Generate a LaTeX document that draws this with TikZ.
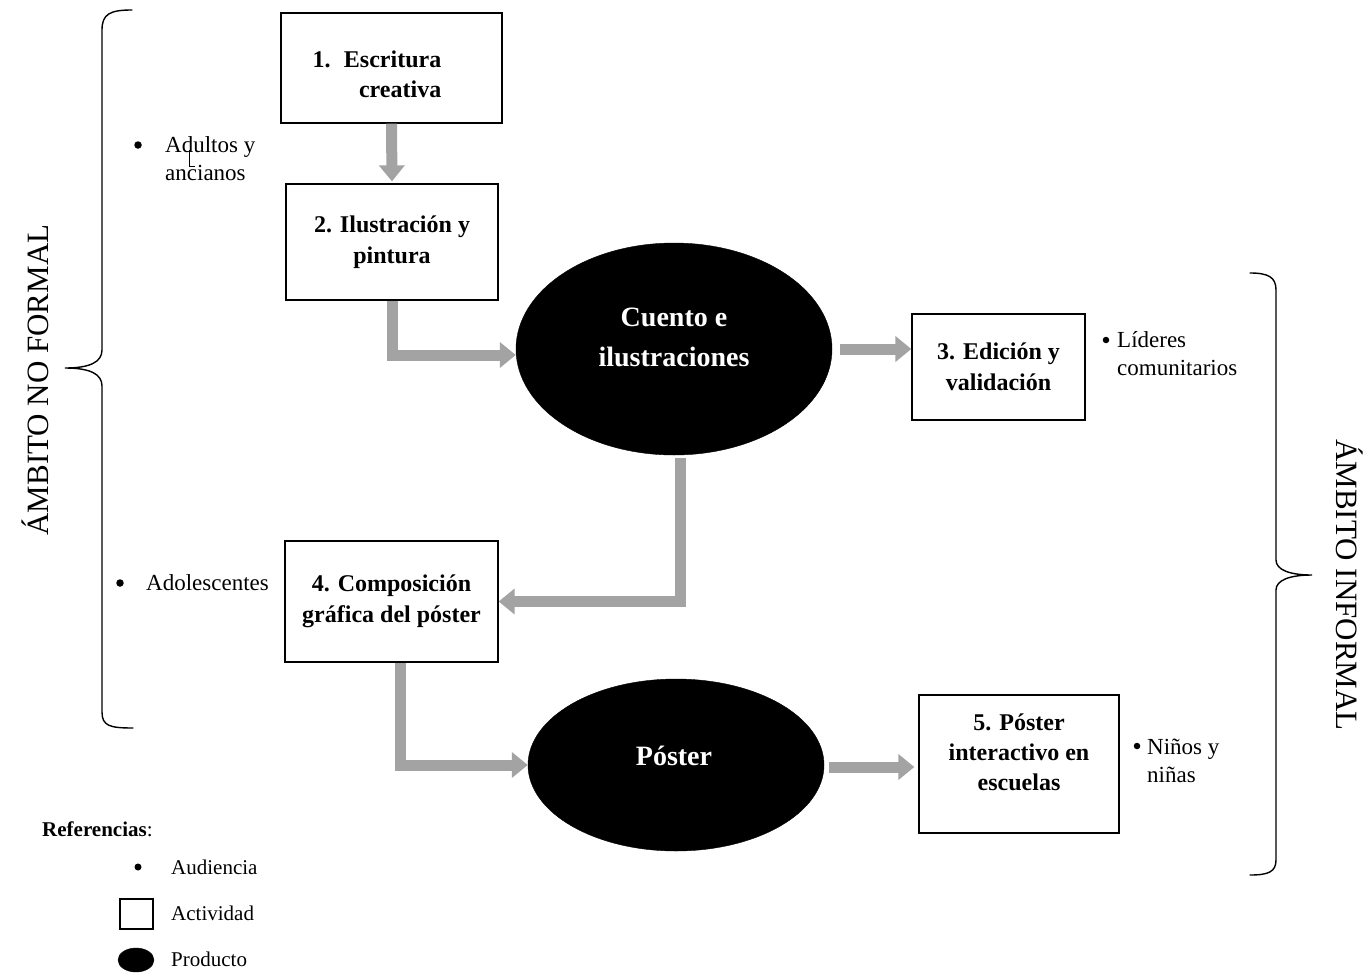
\documentclass[tikz,border=0pt]{standalone}
\usepackage{fontspec}
\setmainfont{Liberation Serif}
\usetikzlibrary{arrows.meta,shapes.geometric}
\definecolor{arrowgray}{HTML}{A3A3A3}
\begin{document}
\begin{tikzpicture}[x=1pt,y=-1pt,
  actbox/.style={draw, line width=1.3pt, inner sep=0pt, align=center,
    font=\fontsize{24}{31}\selectfont\bfseries},
  acttext/.style={inner sep=0pt, font=\fontsize{24}{30}\selectfont\bfseries},
  product/.style={ellipse, fill=black, draw=black, inner sep=0pt},
  prodtext/.style={inner sep=0pt, text=white, align=center,
    font=\fontsize{28}{40}\selectfont\bfseries},
  audtext/.style={inner sep=0pt, anchor=west, align=left,
    font=\fontsize{23}{28}\selectfont},
  audbullet/.style={circle, fill=black, inner sep=0pt, minimum size=#1},
  audbullet/.default=7.5pt,
  flow/.style={line width=11pt, draw=arrowgray, line join=miter,
    -{Triangle[width=25pt,length=16pt,fill=arrowgray]}},
  brace/.style={line width=1.4pt, line cap=round},
  sidelabel/.style={inner sep=0pt, font=\fontsize{31}{36}\selectfont},
  legtext/.style={inner sep=0pt, anchor=west, font=\fontsize{21}{24}\selectfont}]

\useasboundingbox (0,0) rectangle (1364,972);

% boxes
\node[actbox, minimum width=221pt, minimum height=110pt] (b1) at (391.5,68) {};
\node[acttext, align=right] (b1t) at (377,74) {1.\hspace{0.55em}Escritura\\creativa};
\node[actbox, minimum width=212pt, minimum height=116pt] (b2) at (392,242) {2. Ilustración y\\pintura};
\node[actbox, minimum width=173pt, minimum height=106pt] (b3) at (998.5,367) {3. Edición y\\validación};
\node[actbox, minimum width=213pt, minimum height=121pt] (b4) at (391.5,601.5) {4. Composición\\gráfica del póster};
\node[actbox, minimum width=200pt, minimum height=138pt] (b5) at (1019,764) {};
\node[acttext, align=center] (b5t) at (1019,752) {5. Póster\\interactivo en\\escuelas};

% products
\node[product, minimum width=316pt, minimum height=212pt] (cuento) at (674,349) {};
\node[prodtext] (cuentot) at (674,337) {Cuento e\\ilustraciones};
\node[product, minimum width=296pt, minimum height=172pt] (poster) at (676,765) {};
\node[prodtext] (postert) at (674,756) {Póster};

% arrows
\draw[flow, shorten >=2pt] (b1.south) -- (b2.north);
\draw[flow] (b2.south) |- ([yshift=-6pt]cuento.west);
\draw[flow, shorten <=8pt] (cuento.east) -- (cuento.east -| b3.west);
\draw[flow, shorten <=3pt] ([xshift=6pt]cuento.south) |- (b4.east);
\draw[flow] ([xshift=9pt]b4.south) |- (poster.west);
\draw[flow, shorten <=5pt, shorten >=4pt] ([yshift=-2pt]poster.east) -- ([yshift=-2pt]poster.east -| b5.west);

% audiences
\node[audbullet] (a1b) at (138,145) {};
\node[audtext] (a1) at (165,159) {Adultos y\\ancianos};
\draw[line width=0.6pt] (189,150) -- (189,166) -- (195,166);
\node[audbullet] (a2b) at (120,583) {};
\node[audtext] (a2) at (146,583) {Adolescentes};
\node[audbullet=6.5pt] (a3b) at (1106,340) {};
\node[audtext] (a3) at (1117,354) {Líderes\\comunitarios};
\node[audbullet=6.5pt] (a4b) at (1137,746) {};
\node[audtext] (a4) at (1147,761) {Niños y\\niñas};

% braces
\draw[brace] (132,10) .. controls (110,10) and (102,14) .. (102,30) -- (102,350)
  .. controls (102,362) and (90,368) .. (65,368)
  .. controls (90,368) and (102,374) .. (102,386) -- (102,712)
  .. controls (102,726) and (110,728) .. (133,728);
\draw[brace] (1250,273) .. controls (1268,273) and (1276,277) .. (1276,290) -- (1276,560)
  .. controls (1276,570) and (1290,575) .. (1312,575)
  .. controls (1290,575) and (1276,580) .. (1276,590) -- (1276,860)
  .. controls (1276,872) and (1268,875) .. (1250,875);
\node[sidelabel, rotate=90] (nf) at (35,380) {ÁMBITO NO FORMAL};
\node[sidelabel, rotate=-90] (inf) at (1350,585) {ÁMBITO INFORMAL};

% legend
\node[legtext] (ref) at (42,829) {\textbf{Referencias}:};
\node[audbullet=7pt] (lb) at (138,867) {};
\node[legtext] (lbt) at (171,867) {Audiencia};
\node[draw, line width=1.2pt, minimum width=33pt, minimum height=30pt, inner sep=0pt] (lr) at (136.5,914) {};
\node[legtext] (lrt) at (171,913) {Actividad};
\node[product, minimum width=36pt, minimum height=24pt] (le) at (136,960) {};
\node[legtext] (let) at (171,959) {Producto};
\end{tikzpicture}
\end{document}
